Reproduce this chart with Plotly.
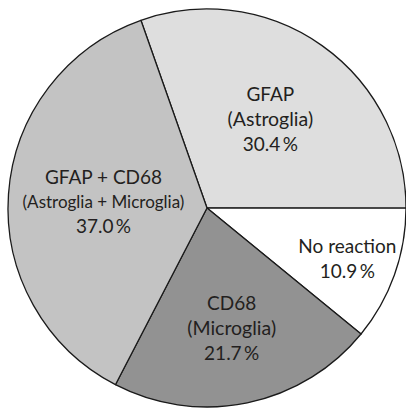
import plotly.graph_objects as go

# Glial reaction categories and their share of cases (%)
labels = ["GFAP", "No reaction", "CD68", "GFAP + CD68"]
subtitles = ["(Astroglia)", "", "(Microglia)", "(Astroglia + Microglia)"]
shares = [30.4, 10.9, 21.7, 37.0]
colors = ["#dedede", "#ffffff", "#929292", "#c3c3c3"]

texts = []
for name, sub, val in zip(labels, subtitles, shares):
    lines = [name]
    if sub:
        size = 17 if len(sub) > 15 else 19.5
        lines.append(f"<span style='font-size:{size}px'>{sub}</span>")
    lines.append(f"{val:.1f}\u2009%")
    texts.append("<br>".join(lines))

fig = go.Figure(
    go.Pie(
        labels=labels,
        values=shares,
        text=texts,
        textinfo="text",
        textposition="inside",
        insidetextorientation="horizontal",
        sort=False,
        direction="clockwise",
        rotation=-19.4,
        marker=dict(colors=colors, line=dict(color="#1a1a1a", width=1.3)),
        textfont=dict(family="Lato", size=19, color="#231f20"),
        domain=dict(x=[8 / 406, 1.0], y=[2 / 409, 400 / 409]),
        showlegend=False,
        hoverinfo="skip",
    )
)

fig.update_layout(
    width=406,
    height=409,
    margin=dict(l=0, r=0, t=0, b=0),
    paper_bgcolor="white",
    plot_bgcolor="white",
    uniformtext=dict(minsize=19, mode="show"),
)

fig.write_html("out.html")
